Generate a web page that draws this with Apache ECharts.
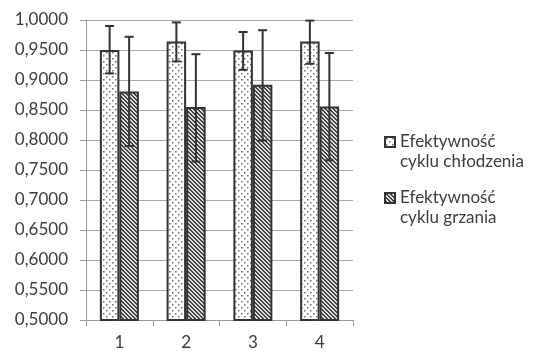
<!DOCTYPE html>
<html><head><meta charset="utf-8">
<script src="https://cdn.jsdelivr.net/npm/echarts@6/dist/echarts.min.js"></script>
<style>html,body{margin:0;padding:0;background:#fff}#c{width:534px;height:351px}</style>
</head><body><div id="c"></div>
<script>
var categories = ['1', '2', '3', '4'];
var seriesNames = ['Efektywność\ncyklu chłodzenia', 'Efektywność\ncyklu grzania'];
var coolValues = [0.950, 0.964, 0.949, 0.964];
var coolLow = [0.911, 0.931, 0.917, 0.927];
var coolHigh = [0.990, 0.996, 0.980, 0.999];
var heatValues = [0.881, 0.855, 0.892, 0.856];
var heatLow = [0.790, 0.764, 0.799, 0.766];
var heatHigh = [0.972, 0.943, 0.983, 0.945];
var yTicks = { min: 0.5, max: 1.0, step: 0.05 };

function dotPattern() {
  var c = document.createElement('canvas'); c.width = 6; c.height = 6;
  var g = c.getContext('2d');
  g.fillStyle = '#ffffff'; g.fillRect(0, 0, 6, 6);
  g.fillStyle = '#6e6e6e';
  g.fillRect(1, 1, 1.5, 1.5); g.fillRect(4, 4, 1.5, 1.5);
  return { image: c, repeat: 'repeat' };
}
function hatchPattern() {
  var c = document.createElement('canvas'); c.width = 4; c.height = 4;
  var g = c.getContext('2d');
  g.fillStyle = '#e0e0e0'; g.fillRect(0, 0, 4, 4);
  g.fillStyle = '#404040';
  for (var i = 0; i < 4; i++) { g.fillRect(i, i, 1, 1); g.fillRect((i + 1) % 4, i, 1, 1); }
  return { image: c, repeat: 'repeat' };
}

var chart = echarts.init(document.getElementById('c'), null, { renderer: 'canvas' });
var font = 'Lato';
var txt = '#3c3c3c';
var barW = 19.5;

function errorSeries(low, high, sign) {
  var data = low.map(function (l, i) { return [i, l, high[i]]; });
  return {
    type: 'custom',
    z: 10,
    silent: true,
    renderItem: function (params, api) {
      var i = api.value(0);
      var p1 = api.coord([i, api.value(1)]);
      var p2 = api.coord([i, api.value(2)]);
      var x = p1[0] + sign * barW / 2;
      var cap = 4.5;
      var st = { stroke: '#333333', lineWidth: 2 };
      return {
        type: 'group',
        children: [
          { type: 'line', shape: { x1: x, y1: p1[1], x2: x, y2: p2[1] }, style: st },
          { type: 'line', shape: { x1: x - cap, y1: p1[1], x2: x + cap, y2: p1[1] }, style: st },
          { type: 'line', shape: { x1: x - cap, y1: p2[1], x2: x + cap, y2: p2[1] }, style: st }
        ]
      };
    },
    encode: { x: 0, y: [1, 2] },
    data: data
  };
}

chart.setOption({
  animation: false,
  textStyle: { fontFamily: font },
  grid: { left: 86, right: 181, top: 20, bottom: 31, containLabel: false },
  legend: {
    orient: 'vertical',
    left: 384, top: 112,
    padding: 0,
    icon: 'rect',
    itemWidth: 10, itemHeight: 10,
    itemGap: -4,
    formatter: function (name) { return ' \n' + name; },
    textStyle: { fontFamily: font, fontSize: 17, color: txt, lineHeight: 20 },
    data: seriesNames
  },
  xAxis: {
    type: 'category',
    data: categories,
    axisLine: { lineStyle: { color: '#9a9a9a', width: 1 } },
    axisTick: { show: true, length: 6, lineStyle: { color: '#9a9a9a' } },
    axisLabel: { fontFamily: font, fontSize: 17, color: txt, margin: 14 }
  },
  yAxis: {
    type: 'value',
    min: yTicks.min, max: yTicks.max, interval: yTicks.step,
    axisLine: { show: true, lineStyle: { color: '#9a9a9a', width: 1 } },
    axisTick: { show: true, length: 6, lineStyle: { color: '#9a9a9a' } },
    splitLine: { lineStyle: { color: '#a8a8a8', width: 1 } },
    axisLabel: {
      fontFamily: font, fontSize: 17, color: txt, margin: 18,
      formatter: function (v) { return v.toFixed(4).replace('.', ','); }
    }
  },
  series: [
    {
      name: seriesNames[0], type: 'bar', data: coolValues,
      barWidth: barW, barGap: '0%',
      itemStyle: { color: dotPattern(), borderColor: '#333333', borderWidth: 2 }
    },
    {
      name: seriesNames[1], type: 'bar', data: heatValues,
      barWidth: barW, barGap: '0%',
      itemStyle: { color: hatchPattern(), borderColor: '#333333', borderWidth: 2 }
    },
    errorSeries(coolLow, coolHigh, -1),
    errorSeries(heatLow, heatHigh, 1)
  ]
});
</script></body></html>
